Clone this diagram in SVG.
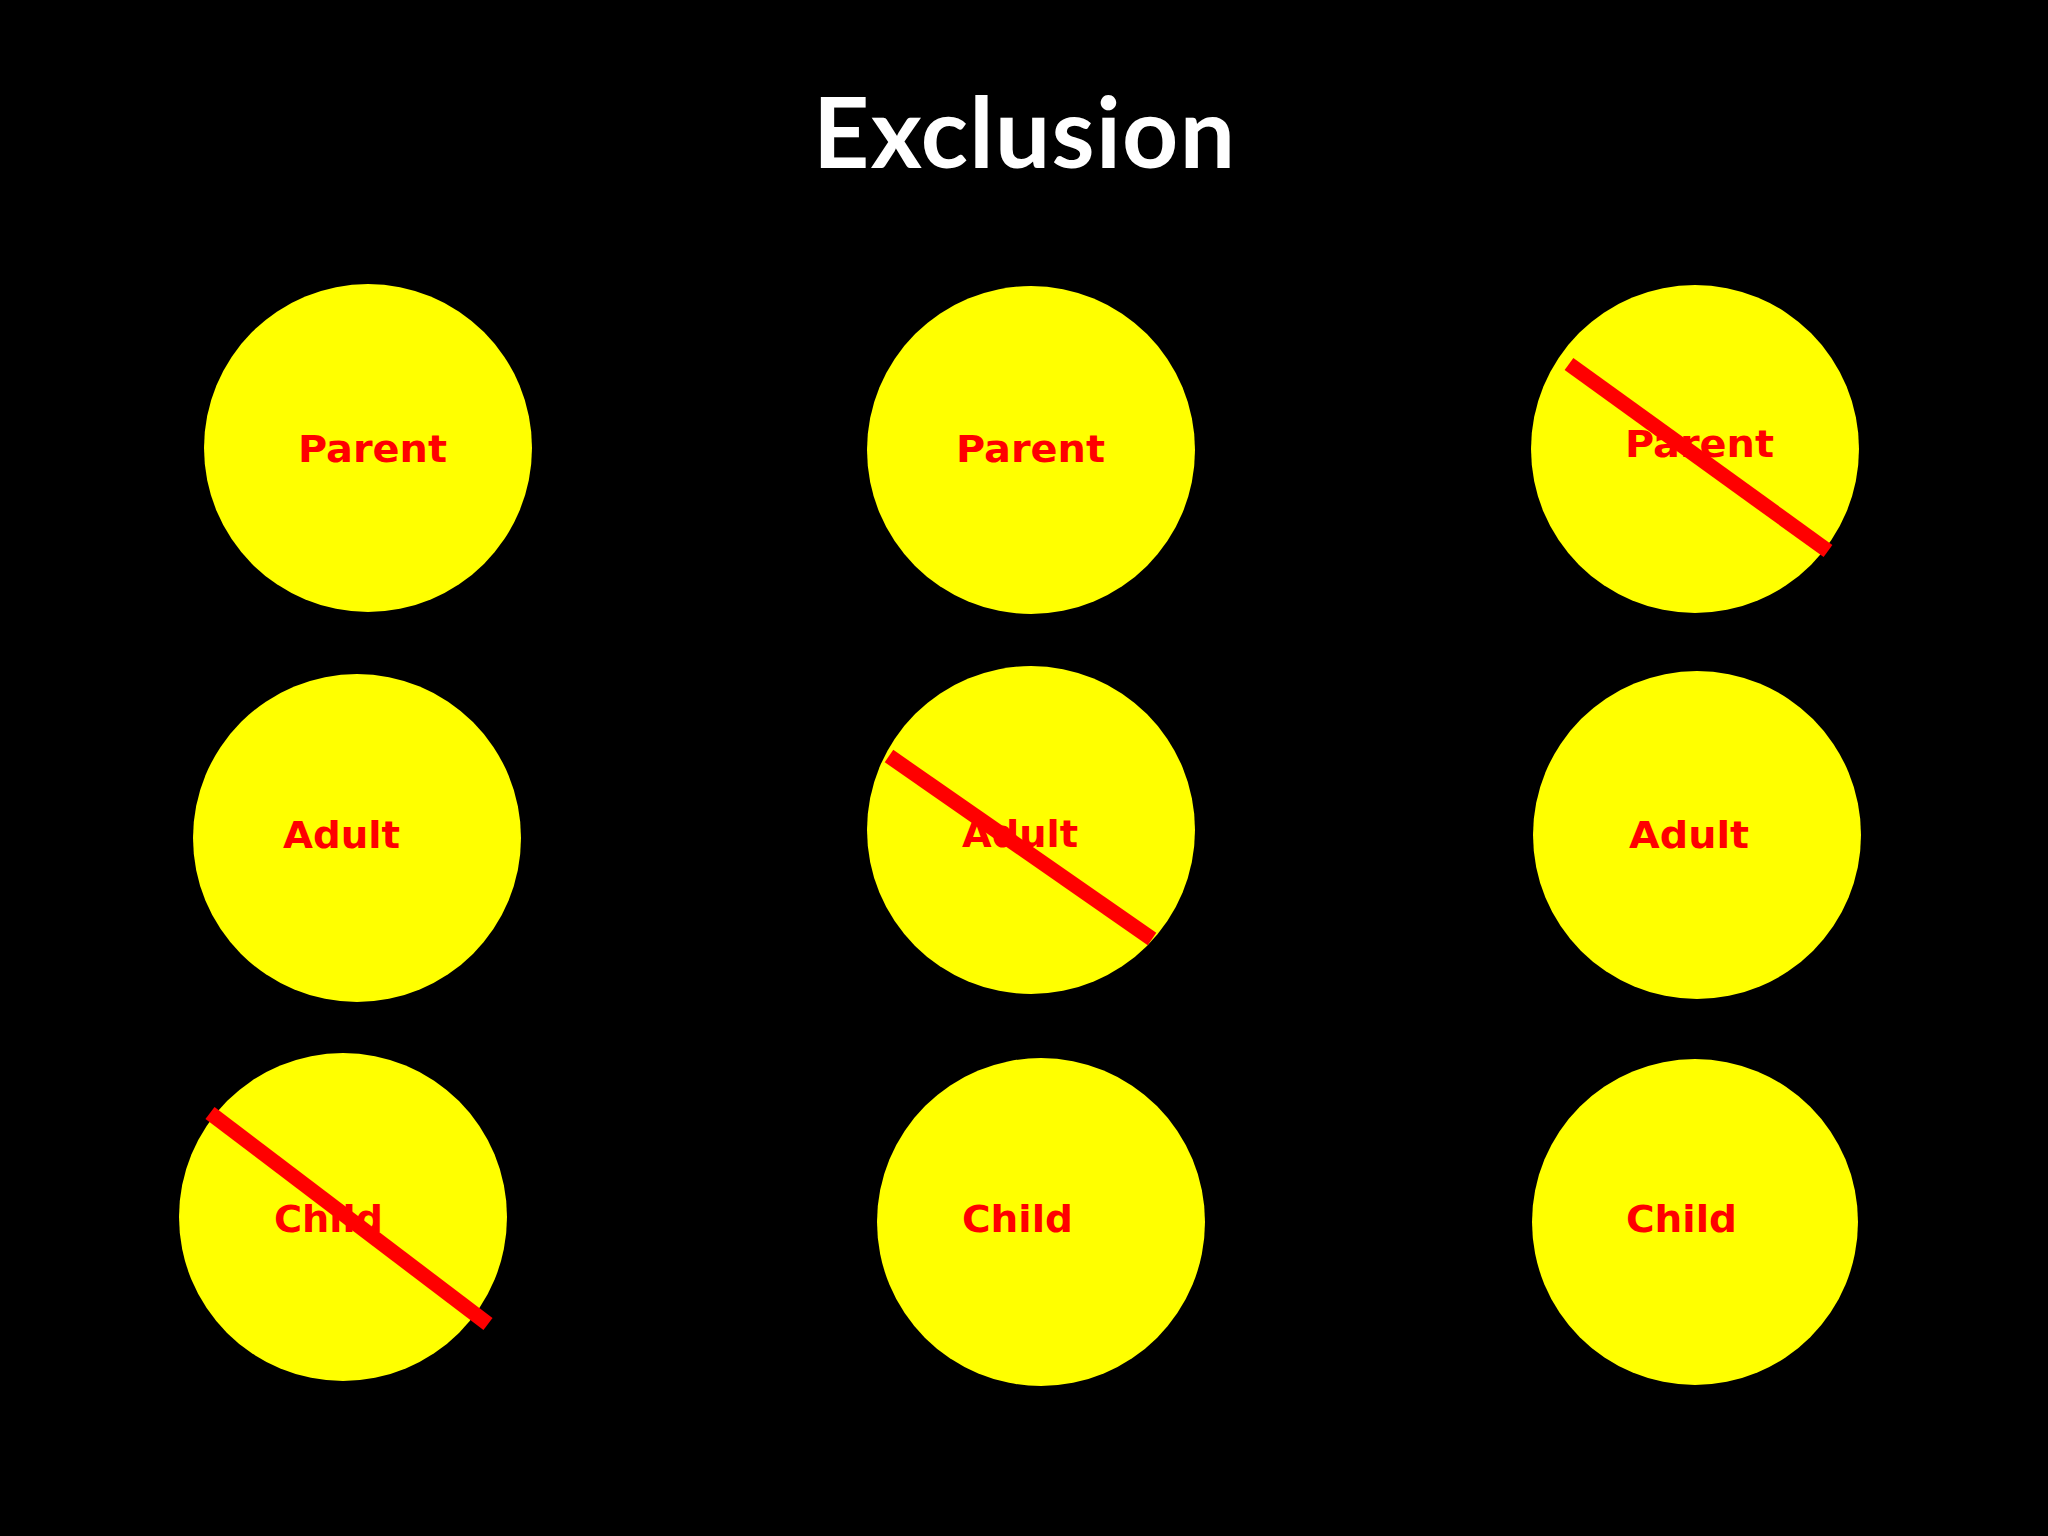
<svg xmlns="http://www.w3.org/2000/svg" width="2048" height="1536" viewBox="0 0 2048 1536">
<style>
.bg{fill:#000}
.title{font-family:Lato,"Liberation Sans",sans-serif;font-weight:bold;font-size:98px;fill:#fff}
.disc{fill:#ffff00}
.lbl{font-family:"DejaVu Sans","Liberation Sans",sans-serif;font-weight:bold;font-size:38px;fill:#ff0000}
.bar{stroke:#ff0000;stroke-width:15;stroke-linecap:butt}
</style>
<rect class="bg" x="0" y="0" width="2048" height="1536"/>
<text class="title" x="1024" y="168" text-anchor="middle" textLength="422" lengthAdjust="spacing">Exclusion</text>
<g id="parent1"><circle class="disc" cx="368" cy="448" r="164"/><text class="lbl" x="298" y="462" textLength="149" lengthAdjust="spacingAndGlyphs">Parent</text></g>
<g id="parent2"><circle class="disc" cx="1031" cy="450" r="164"/><text class="lbl" x="956" y="462" textLength="149" lengthAdjust="spacingAndGlyphs">Parent</text></g>
<g id="parent3"><circle class="disc" cx="1695" cy="449" r="164"/><text class="lbl" x="1625" y="457" textLength="149" lengthAdjust="spacingAndGlyphs">Parent</text></g>
<g id="adult1"><circle class="disc" cx="357" cy="838" r="164"/><text class="lbl" x="283" y="848" textLength="117" lengthAdjust="spacingAndGlyphs">Adult</text></g>
<g id="adult2"><circle class="disc" cx="1031" cy="830" r="164"/><text class="lbl" x="962" y="847" textLength="116" lengthAdjust="spacingAndGlyphs">Adult</text></g>
<g id="adult3"><circle class="disc" cx="1697" cy="835" r="164"/><text class="lbl" x="1629" y="848" textLength="120" lengthAdjust="spacingAndGlyphs">Adult</text></g>
<g id="child1"><circle class="disc" cx="343" cy="1217" r="164"/><text class="lbl" x="274" y="1232" textLength="109" lengthAdjust="spacingAndGlyphs">Child</text></g>
<g id="child2"><circle class="disc" cx="1041" cy="1222" r="164"/><text class="lbl" x="962" y="1232" textLength="111" lengthAdjust="spacingAndGlyphs">Child</text></g>
<g id="child3"><circle class="disc" cx="1695" cy="1222" r="163"/><text class="lbl" x="1626" y="1232" textLength="111" lengthAdjust="spacingAndGlyphs">Child</text></g>
<g id="connectors">
<line class="bar" x1="1569" y1="364" x2="1828" y2="551"/>
<line class="bar" x1="889" y1="756" x2="1152" y2="939"/>
<line class="bar" x1="210" y1="1113" x2="488" y2="1324"/>
</g>
</svg>
